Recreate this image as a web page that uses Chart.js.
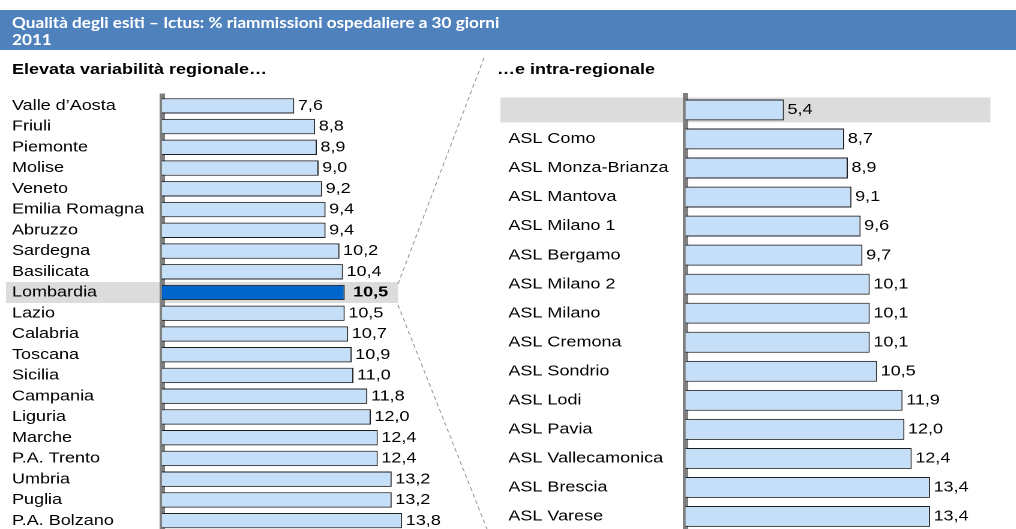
<!DOCTYPE html>
<html>
<head>
<meta charset="utf-8">
<script src="https://cdn.jsdelivr.net/npm/chart.js@4"></script>
<style>
  html, body { margin: 0; padding: 0; background: #fff; overflow: hidden; }
  body { width: 1016px; height: 529px; position: relative; }
  #wrap { position: absolute; left: 0; top: 0; height: 529px; transform-origin: 0 0; }
  .header { position: absolute; left: 0; top: 10px; height: 40px; background: #4F81BD; color: #fff;
            font-family: Lato, "Open Sans", sans-serif; font-weight: bold; font-size: 14.3px; line-height: 17px;
            padding-top: 4px; box-sizing: border-box; }
  .header div { padding-left: 10px; white-space: nowrap; }
  .sub { position: absolute; top: 60px; font-family: "Liberation Sans", Arial, sans-serif; font-weight: bold;
         font-size: 15px; white-space: nowrap; color: #000; }
  .box { position: absolute; top: 0; height: 540px; }
  svg { position: absolute; left: 0; top: 0; }
</style>
</head>
<body>
<div id="wrap">
  <div class="header" id="hdr">
    <div>Qualità degli esiti – Ictus: % riammissioni ospedaliere a 30 giorni</div>
    <div>2011</div>
  </div>
  <div class="sub" id="sub1">Elevata variabilità regionale…</div>
  <div class="sub" id="sub2">…e intra-regionale</div>
  <div class="box" id="boxL"><canvas id="chartL"></canvas></div>
  <div class="box" id="boxR"><canvas id="chartR"></canvas></div>
</div>
<svg width="1016" height="529">
  <line x1="398" y1="284" x2="484" y2="58" stroke="#777" stroke-width="0.8" stroke-dasharray="4 3"/>
  <line x1="398" y1="305" x2="487" y2="529" stroke="#777" stroke-width="0.8" stroke-dasharray="4 3"/>
</svg>
<script>
// data
var regioni = ['Valle d\u2019Aosta', 'Friuli', 'Piemonte', 'Molise', 'Veneto', 'Emilia Romagna', 'Abruzzo',
  'Sardegna', 'Basilicata', 'Lombardia', 'Lazio', 'Calabria', 'Toscana', 'Sicilia', 'Campania',
  'Liguria', 'Marche', 'P.A. Trento', 'Umbria', 'Puglia', 'P.A. Bolzano'];
var valoriRegioni = [7.6, 8.8, 8.9, 9.0, 9.2, 9.4, 9.4, 10.2, 10.4, 10.5, 10.5, 10.7, 10.9, 11.0, 11.8,
  12.0, 12.4, 12.4, 13.2, 13.2, 13.8];
var asl = ['', 'ASL Como', 'ASL Monza-Brianza', 'ASL Mantova', 'ASL Milano 1', 'ASL Bergamo', 'ASL Milano 2',
  'ASL Milano', 'ASL Cremona', 'ASL Sondrio', 'ASL Lodi', 'ASL Pavia', 'ASL Vallecamonica', 'ASL Brescia', 'ASL Varese'];
var valoriAsl = [5.4, 8.7, 8.9, 9.1, 9.6, 9.7, 10.1, 10.1, 10.1, 10.5, 11.9, 12.0, 12.4, 13.4, 13.4];

// the reference is horizontally stretched, so draw narrower and stretch the whole block
var SX = 1.2;
function h(x) { return x / SX; }

var wrap = document.getElementById('wrap');
wrap.style.width = h(1016) + 'px';
wrap.style.transform = 'scaleX(' + SX + ')';
document.getElementById('hdr').style.width = h(1016) + 'px';
document.getElementById('sub1').style.left = h(12) + 'px';
document.getElementById('sub2').style.left = h(497) + 'px';
var boxL = document.getElementById('boxL');
boxL.style.left = '0px'; boxL.style.width = h(480) + 'px';
var boxR = document.getElementById('boxR');
boxR.style.left = h(488) + 'px'; boxR.style.width = h(528) + 'px';

var lightBlue = '#C6DFF8';
var fontLbl = { family: '"Liberation Sans", Arial, sans-serif', size: 15 };

function fmt(v) { return v.toFixed(1).replace('.', ','); }

function makeChart(id, labels, values, opt) {
  var colors = values.map(function (v, i) { return i === opt.hiIndex && opt.hiBar ? '#0066CC' : lightBlue; });
  // grey band behind the highlighted row, drawn before the axis labels
  var bandPlugin = {
    id: 'band',
    beforeDraw: function (chart) {
      var c = chart.ctx, y = chart.scales.y;
      var yc = y.getPixelForValue(opt.hiIndex);
      c.save();
      c.fillStyle = '#DCDCDC';
      c.fillRect(opt.bandX0, yc - opt.bandH / 2, opt.bandX1 - opt.bandX0, opt.bandH);
      c.restore();
    }
  };
  var valuePlugin = {
    id: 'vals',
    afterDatasetsDraw: function (chart) {
      var c = chart.ctx;
      var meta = chart.getDatasetMeta(0);
      c.save();
      c.fillStyle = '#000';
      c.textBaseline = 'middle';
      c.textAlign = 'left';
      meta.data.forEach(function (bar, i) {
        var bold = opt.hiBar && i === opt.hiIndex;
        c.font = (bold ? 'bold ' : '') + '15px "Liberation Sans", Arial, sans-serif';
        c.fillText(fmt(values[i]), bar.x + (bold ? 7 : 3), bar.y);
      });
      c.restore();
    }
  };
  return new Chart(document.getElementById(id), {
    type: 'bar',
    data: {
      labels: labels,
      datasets: [{
        data: values,
        backgroundColor: colors,
        borderColor: '#1E1E1E',
        borderWidth: 1,
        barPercentage: opt.barPct,
        categoryPercentage: 1
      }]
    },
    options: {
      indexAxis: 'y',
      responsive: true,
      maintainAspectRatio: false,
      animation: false,
      devicePixelRatio: 2,
      layout: { padding: { left: opt.padL, right: opt.padR, top: opt.padT, bottom: opt.padB } },
      scales: {
        x: { display: false, min: 0, max: 16 },
        y: {
          grid: { display: false, drawTicks: false },
          border: { display: true, color: '#7F7F7F', width: 4.5 },
          ticks: { crossAlign: 'far', autoSkip: false, color: '#000', font: fontLbl, padding: 0 },
          afterFit: function (s) { s.width = opt.axisW; }
        }
      },
      plugins: { legend: { display: false }, tooltip: { enabled: false } }
    },
    plugins: [bandPlugin, valuePlugin]
  });
}

// left: rows 20.9px apart, first centre at y=106, zero at x=162, 17.4px per unit
makeChart('chartL', regioni, valoriRegioni, {
  hiIndex: 9, hiBar: true,
  padL: h(12), axisW: h(150), padR: h(480) - h(162) - 16 * h(17.4),
  padT: 95.5, padB: 540 - (95.5 + 21 * 20.9),
  barPct: 0.74,
  bandX0: h(6), bandX1: h(398), bandH: 21
});

// right: rows 29.3px apart, first centre at y=110, zero at x=685, 18.25px per unit
makeChart('chartR', asl, valoriAsl, {
  hiIndex: 0, hiBar: false,
  padL: h(20), axisW: h(685 - 508), padR: h(528) - h(685 - 488) - 16 * h(18.25),
  padT: 95.4, padB: 540 - (95.4 + 15 * 29.3),
  barPct: 0.72,
  bandX0: h(12), bandX1: h(502), bandH: 25
});
</script>
</body>
</html>
